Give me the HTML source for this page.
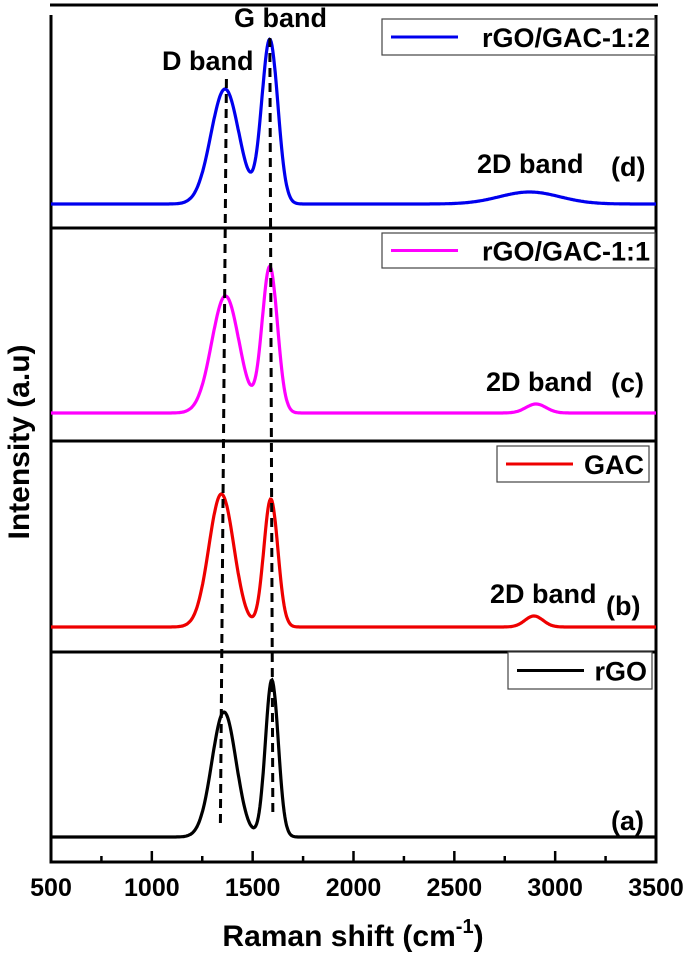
<!DOCTYPE html>
<html><head><meta charset="utf-8"><style>
html,body{margin:0;padding:0;background:#fff;}
svg{display:block;font-family:"Liberation Sans",Arial,sans-serif;font-weight:bold;}
</style></head><body>
<svg id="chart" width="693" height="957" viewBox="0 0 693 957" xmlns="http://www.w3.org/2000/svg">
<g id="frame"></g>
<g id="series"></g>
<g id="guides"></g>
<g id="labels"></g>
<text x="353" y="946" font-size="30" text-anchor="middle">Raman shift (cm<tspan dy="-13" font-size="20">-1</tspan><tspan dy="13">)</tspan></text>
<text transform="translate(29,442) rotate(-90)" font-size="30" text-anchor="middle">Intensity (a.u)</text>
</svg>
<script>
// data
const xTicks = [500,1000,1500,2000,2500,3000,3500];
const seriesNames = ["rGO/GAC-1:2","rGO/GAC-1:1","GAC","rGO"];
const seriesColors = ["#0000ee","#ff00ff","#ee0000","#000000"];
const peakCenters = [[1363,1585,2873],[1365,1585,2905],[1345,1590,2895],[1358,1595,2900]];
const peakHeights = [[115,164,12],[117,146,9],[133,128,11],[125,157,0]];
const peakWidths  = [[70,40,150],[68,38,50],[62,35,45],[60,32,50]];
const dBand = [1340,1370];
const gBand = [1600,1585];

const NS="http://www.w3.org/2000/svg";
const L=51,R=656;
function xs(v){return L+(v-500)*(R-L)/3000;}
const panelTops=[15,228,441,652], baselines=[204,413,627,837];
function mk(tag,attrs,parent){const e=document.createElementNS(NS,tag);for(const k in attrs)e.setAttribute(k,attrs[k]);parent.appendChild(e);return e;}
const frame=document.getElementById('frame');
let e=mk('line',{x1:L-1,x2:R+2,y1:5,y2:5,stroke:'#000','stroke-width':3},frame);


e=mk('path',{d:`M${L},15 V862 H${R} V15`,fill:'none',stroke:'#000','stroke-width':3},frame);


for(let i=1;i<4;i++){
  e=mk('line',{x1:L,x2:R,y1:panelTops[i],y2:panelTops[i],stroke:'#000','stroke-width':3},frame);
  
  
}
for(let i=0;i<xTicks.length;i++){
  const x=xs(xTicks[i]);
  e=mk('line',{x1:x,x2:x,y1:862,y2:851,stroke:'#000','stroke-width':2.5},frame);
  
  
  e=mk('text',{x:x,y:896,'font-size':25,'text-anchor':'middle'},frame);
  e.textContent=xTicks[i];
  
  
  if(i<xTicks.length-1){
    const xm=xs(xTicks[i]+250);
    e=mk('line',{x1:xm,x2:xm,y1:862,y2:856,stroke:'#000','stroke-width':2.5},frame);
    
    
  }
}
const sg=document.getElementById('series');
for(let s=0;s<4;s++){
  let d='';
  for(let v=500;v<=3500;v+=4){
    let y=0;
    for(let p=0;p<3;p++){const dx=v-peakCenters[s][p];y+=peakHeights[s][p]*Math.exp(-dx*dx/(2*peakWidths[s][p]*peakWidths[s][p]));}
    d+=(v===500?'M':'L')+xs(v).toFixed(1)+','+(baselines[s]-y).toFixed(1);
  }
  e=mk('path',{d:d,fill:'none',stroke:seriesColors[s],'stroke-width':3.2},sg);
  
  
}
const gg=document.getElementById('guides');
e=mk('line',{x1:xs(dBand[0]),y1:823,x2:xs(dBand[1]),y2:75,stroke:'#000','stroke-width':3,'stroke-dasharray':'9,6'},gg);


e=mk('line',{x1:xs(gBand[0]),y1:812,x2:xs(gBand[1]),y2:33,stroke:'#000','stroke-width':3,'stroke-dasharray':'9,6'},gg);


const lg=document.getElementById('labels');
const legendBoxes=[[382,19,655,55],[382,233,655,268],[497,446,649,482],[508,652,652,689]];
for(let s=0;s<4;s++){
  const b=legendBoxes[s];
  e=mk('rect',{x:b[0],y:b[1],width:b[2]-b[0],height:b[3]-b[1],fill:'#fff',stroke:'#444','stroke-width':1.2},lg);
  
  
  const my=(b[1]+b[3])/2;
  e=mk('line',{x1:b[0]+9,x2:b[0]+76,y1:my,y2:my,stroke:seriesColors[s],'stroke-width':3},lg);
  
  
  e=mk('text',{x:b[2]-5,y:my+10,'font-size':27,'text-anchor':'end'},lg);
  e.textContent=seriesNames[s];
  
  
}
const txt=[["G band",234,27,"g-band-label"],["D band",162,70,"d-band-label"],["2D band",477,173,"2d-band-label-d"],["(d)",611,176,"panel-label-d"],["2D band",486,391,"2d-band-label-c"],["(c)",611,392,"panel-label-c"],["2D band",490,603,"2d-band-label-b"],["(b)",606,615,"panel-label-b"],["(a)",611,830,"panel-label-a"]];
for(const t of txt){
  e=mk('text',{x:t[1],y:t[2],'font-size':27},lg);
  e.textContent=t[0];
  
  
}
</script>
</body></html>
